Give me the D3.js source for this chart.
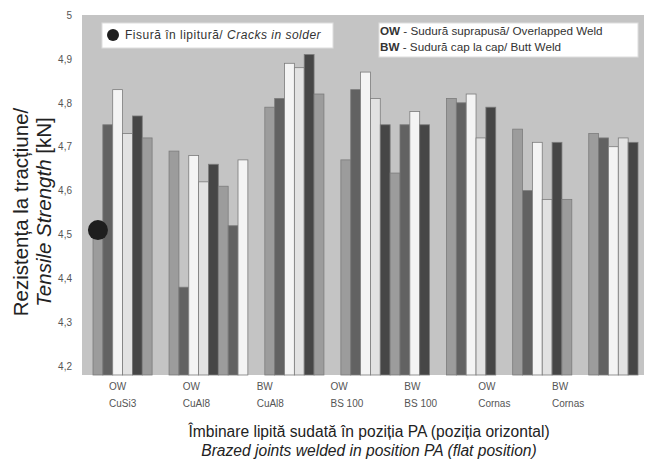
<!DOCTYPE html>
<html>
<head>
<meta charset="utf-8">
<script src="https://cdn.jsdelivr.net/npm/d3@7"></script>
<style>
  body { margin: 0; background: #fff; }
  text { font-family: "Liberation Sans", Arial, sans-serif; }
</style>
</head>
<body>
<svg id="chart" width="646" height="468"></svg>
<script>
// weld type / filler material of each group
const groupTop = ['OW', 'OW', 'BW', 'OW', 'BW', 'OW', 'BW'];
const groupBottom = ['CuSi3', 'CuAl8', 'CuAl8', 'BS 100', 'BS 100', 'Cornas', 'Cornas'];

// tensile strength per specimen [kN]
const values = [
    [4.51, 4.75, 4.83, 4.73, 4.77, 4.72],
    [4.69, 4.38, 4.68, 4.62, 4.66, 4.61, 4.52, 4.67],
    [4.79, 4.81, 4.89, 4.88, 4.91, 4.82],
    [4.67, 4.83, 4.87, 4.81, 4.75, 4.64, 4.75, 4.78, 4.75],
    [4.81, 4.80, 4.82, 4.72, 4.79],
    [4.74, 4.60, 4.71, 4.58, 4.71, 4.58],
    [4.73, 4.72, 4.70, 4.72, 4.71]
];

// shade index of each specimen bar
const shades = [
    [0, 1, 2, 3, 4, 0],
    [0, 1, 2, 3, 4, 0, 1, 2],
    [0, 1, 2, 3, 4, 0],
    [0, 1, 2, 3, 4, 0, 1, 2, 4],
    [0, 1, 2, 3, 4],
    [0, 1, 2, 3, 4, 0],
    [0, 1, 2, 3, 4]
];

// specimens with cracks in solder: [group, bar]
const cracked = [[0, 0]];

const palette = ['#9c9c9c', '#626262', '#f4f4f4', '#e2e2e2', '#464646'];

const svg = d3.select('#chart');
const margin = {top: 15, right: 2, bottom: 93, left: 82};
const width = 646 - margin.left - margin.right;
const height = 468 - margin.top - margin.bottom;

const g = svg.append('g')
    .attr('transform', `translate(${margin.left},${margin.top})`);

g.append('rect')
    .attr('width', width)
    .attr('height', height)
    .attr('fill', '#c4c4c4');

// slot positions: bars touch inside a group, groups are separated by a gap
const gapUnits = 1.72;
let bars = [];
let cursor = 0;
values.forEach((vals, gi) => {
    vals.forEach((v, bi) => {
        bars.push({group: gi, bar: bi, value: v, shade: shades[gi][bi], slot: cursor + bi});
    });
    cursor += vals.length + gapUnits;
});
const totalUnits = cursor - gapUnits;

const x = d3.scaleLinear().domain([0, totalUnits]).range([11, 556]);
const y = d3.scaleLinear().domain([4.18, 5]).range([height, 0]);
const slotW = x(1) - x(0);

// y axis
const yAxis = g.append('g')
    .call(d3.axisLeft(y).ticks(8).tickSize(0).tickPadding(10)
        .tickFormat(d => String(+d.toFixed(1)).replace('.', ',')));
yAxis.select('.domain').remove();
yAxis.selectAll('text')
    .attr('font-size', '10px')
    .attr('fill', '#555')
    .style('font-family', '"Liberation Sans", Arial, sans-serif');

// bars
g.selectAll('.bar')
    .data(bars)
    .join('rect')
        .attr('class', 'bar')
        .attr('x', d => x(d.slot))
        .attr('y', d => y(d.value))
        .attr('width', slotW)
        .attr('height', d => height - y(d.value))
        .attr('fill', d => palette[d.shade])
        .attr('stroke', '#7c7c7c')
        .attr('stroke-width', 0.8);

// crack markers
g.selectAll('.crack')
    .data(cracked)
    .join('circle')
        .attr('class', 'crack')
        .attr('cx', d => {
            const b = bars.find(e => e.group === d[0] && e.bar === d[1]);
            return x(b.slot) + slotW / 2;
        })
        .attr('cy', d => y(values[d[0]][d[1]]))
        .attr('r', 10)
        .attr('fill', '#1e1e1e');

// category labels
const labelX = d3.scalePoint().domain(d3.range(groupTop.length)).range([109 - margin.left, 552 - margin.left]);
const cats = g.selectAll('.cat')
    .data(groupTop.map((t, i) => ({top: t, bottom: groupBottom[i], i: i})))
    .join('text')
        .attr('class', 'cat')
        .attr('font-size', '10px')
        .attr('fill', '#555')
        .attr('y', height + 15);
cats.append('tspan').attr('x', d => labelX(d.i)).text(d => d.top);
cats.append('tspan').attr('x', d => labelX(d.i)).attr('dy', 17).text(d => d.bottom);

// legend: cracks
const leg1 = svg.append('g').attr('transform', 'translate(102,23)');
leg1.append('rect').attr('width', 231).attr('height', 25)
    .attr('fill', '#fff').attr('stroke', '#ddd');
leg1.append('circle').attr('cx', 11).attr('cy', 12).attr('r', 6).attr('fill', '#1e1e1e');
const leg1Text = leg1.append('text').attr('x', 23).attr('y', 16)
    .attr('font-size', '12px').attr('letter-spacing', '0.5px').attr('fill', '#333');
leg1Text.append('tspan').text('Fisură în lipitură/ ');
leg1Text.append('tspan').attr('font-style', 'italic').text('Cracks in solder');

// legend: weld types
const leg2 = svg.append('g').attr('transform', 'translate(379,23)');
leg2.append('rect').attr('width', 259).attr('height', 34)
    .attr('fill', '#fff').attr('stroke', '#ddd');
const weldNames = [['OW', ' - Sudură suprapusă/ Overlapped Weld'], ['BW', ' - Sudură cap la cap/ Butt Weld']];
weldNames.forEach((w, i) => {
    const t = leg2.append('text').attr('x', 1).attr('y', 12 + i * 16)
        .attr('font-size', '11.7px').attr('fill', '#333');
    t.append('tspan').attr('font-weight', 'bold').text(w[0]);
    t.append('tspan').text(w[1]);
});

// axis titles
const yTitle = svg.append('g').attr('transform', 'translate(0,212) rotate(-90)');
yTitle.append('text').attr('x', 0).attr('y', 28)
    .attr('text-anchor', 'middle').attr('font-size', '20.5px').attr('fill', '#222')
    .text('Rezistența la tracțiune/');
const yTitle2 = yTitle.append('text').attr('x', 0).attr('y', 51)
    .attr('text-anchor', 'middle').attr('font-size', '20.5px').attr('fill', '#222');
yTitle2.append('tspan').attr('font-style', 'italic').text('Tensile Strength');
yTitle2.append('tspan').text(' [kN]');

svg.append('text').attr('x', 369).attr('y', 437)
    .attr('text-anchor', 'middle').attr('font-size', '15.6px').attr('fill', '#222')
    .text('Îmbinare lipită sudată în poziția PA (poziția orizontal)');
svg.append('text').attr('x', 369).attr('y', 456)
    .attr('text-anchor', 'middle').attr('font-size', '15.6px').attr('fill', '#222')
    .attr('font-style', 'italic')
    .text('Brazed joints welded in position PA (flat position)');
</script>
</body>
</html>
